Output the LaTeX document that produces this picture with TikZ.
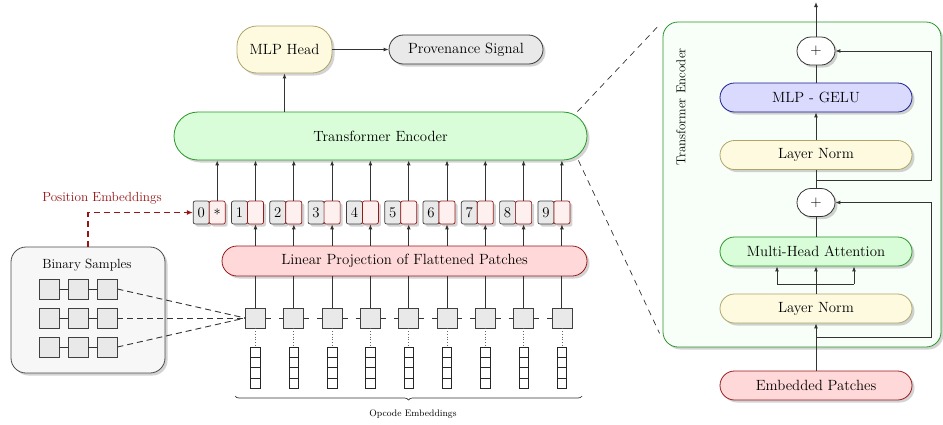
\documentclass[tikz,border=0pt]{standalone}
\usepackage{fontspec}
\usetikzlibrary{arrows.meta,shadows,decorations.pathreplacing,calc}

\definecolor{encfill}{RGB}{217,252,217}
\definecolor{encline}{RGB}{40,150,40}
\definecolor{normfill}{RGB}{253,250,224}
\definecolor{normline}{RGB}{175,165,105}
\definecolor{mlpfill}{RGB}{218,218,255}
\definecolor{mlpline}{RGB}{25,25,140}
\definecolor{projfill}{RGB}{255,217,217}
\definecolor{projline}{RGB}{150,25,25}
\definecolor{greyfill}{RGB}{233,233,233}
\definecolor{tokfill}{RGB}{255,240,240}
\definecolor{panelfill}{RGB}{248,255,248}
\definecolor{posred}{RGB}{150,20,20}

\tikzstyle{soft shadow}=[drop shadow={shadow xshift=2.5pt,shadow yshift=-2.5pt,opacity=0.35}]
\tikzstyle{block}=[
        draw,
        line width = 0.8pt,
        inner sep = 0pt,
        soft shadow,
        font = \fontsize{14.8}{17}\selectfont
    ]
\tikzstyle{pill}=[block, minimum width=192pt, minimum height=29pt, rounded corners=14.5pt]
\tikzstyle{norm pill}=[pill, fill=normfill, draw=normline]
\tikzstyle{plus}=[block, fill=white, minimum width=38pt, minimum height=28pt, rounded corners=14pt]
\tikzstyle{tok num}=[
        draw = black!75,
        fill = greyfill,
        line width = 0.7pt,
        rounded corners = 2pt,
        minimum width = 16pt,
        minimum height = 23pt,
        inner sep = 0pt,
        soft shadow,
        font = \fontsize{14.8}{17}\selectfont
    ]
\tikzstyle{tok emb}=[tok num, draw=projline, fill=tokfill]
\tikzstyle{patch}=[draw=black!75, fill=greyfill, line width=0.8pt, minimum size=20pt, inner sep=0pt]
\tikzstyle{cell}=[draw=black!85, line width=0.7pt, minimum width=9.5pt, minimum height=10.3pt, inner sep=0pt]

\begin{document}
\begin{tikzpicture}[x=1pt, y=-1pt, line width=0.9pt, draw=black!80,
        arr/.style = {-{Latex[length=5pt,width=4pt]}}]
        \useasboundingbox (0,0) rectangle (943,424);

        % main path
        \node[block, fill=normfill, draw=normline, minimum width=95pt, minimum height=47pt, rounded corners=20pt] (head) at (284.5,49.5) {MLP Head};
        \node[block, fill=greyfill, minimum width=154pt, minimum height=29pt, rounded corners=14.5pt] (prov) at (466,49.5) {Provenance Signal};
        \node[block, fill=encfill, draw=encline, minimum width=413pt, minimum height=48pt, rounded corners=24pt] (enc) at (380.5,136) {Transformer Encoder};
        \node[block, fill=projfill, draw=projline, minimum width=365pt, minimum height=30pt, rounded corners=15pt] (proj) at (404.5,261) {Linear Projection of Flattened Patches};

        \draw[arr] (head.south |- enc.north) -- (head.south);
        \draw[arr] (head.east) -- (prov.west);

        % tokens
        \foreach \j in {0,...,9}{
            \pgfmathsetmacro\xx{217.2+38.3*\j}
            \node[tok num] (tn\j) at (\xx-16,212.5) {\j};
            \node[tok emb] (te\j) at (\xx,212.5) {\ifnum\j=0 $\ast$\fi};
            \draw[arr] (te\j.north) -- (te\j.north |- enc.south);
        }
        \foreach \j in {1,...,9}
            \draw[arr] (te\j.south |- proj.north) -- (te\j.south);

        % patches and opcode stacks
        \foreach \i in {0,...,8}{
            \pgfmathsetmacro\xx{255.5+38.3*\i}
            \node[patch] (p\i) at (\xx,318) {};
            \foreach \k in {1,...,4}
                \node[cell] (c\i\k) at (\xx,{347+10.3*(\k-0.5)}) {};
            \draw[dotted, black!60, line width=0.7pt] (p\i.south) -- (c\i1.north);
            \draw (p\i.north) -- (p\i.north |- proj.south);
        }
        \foreach \i [count=\j from 1] in {0,...,7}
            \draw[dash pattern=on 5pt off 8pt] (p\i.east) -- (p\j.west);

        \draw[decorate, decoration={brace, mirror, amplitude=4pt}, line width=0.7pt] (235,396) -- (582,396);
        \node[font=\fontsize{9.4}{11}\selectfont] (opc) at (413,414) {Opcode Embeddings};

        % binary samples
        \node[draw=black!70, fill=black!3, line width=0.8pt, rounded corners=15pt, minimum width=154pt, minimum height=126pt, soft shadow] (bin) at (88,310) {};
        \node[font=\fontsize{13.3}{15}\selectfont] (binlbl) at (87,265) {Binary Samples};
        \foreach \r/\yy in {1/289,2/318,3/347}{
            \foreach \c/\xx in {1/49,2/78,3/107}
                \node[patch] (s\r\c) at (\xx,\yy) {};
            \draw (s\r1) -- (s\r2);
            \draw (s\r2) -- (s\r3);
            \draw[dash pattern=on 6pt off 4pt] (s\r3.east) -- (p0.west);
        }

        \node[posred, font=\fontsize{13.2}{15}\selectfont] (poslbl) at (102,198) {Position Embeddings};
        \draw[posred, dash pattern=on 6pt off 4pt, line width=1.1pt, -{Latex[length=6pt,width=5pt]}] (bin.north) |- (tn0.west);

        % encoder detail
        \node[draw=encline, fill=panelfill, line width=0.8pt, rounded corners=15pt, minimum width=278pt, minimum height=325pt, soft shadow] (panel) at (802,184.5) {};
        \node[rotate=90, font=\fontsize{12.9}{15}\selectfont] (panelttl) at (681,107) {Transformer Encoder};

        \node[plus] (plus2) at (816,51) {+};
        \node[pill, fill=mlpfill, draw=mlpline] (gelu) at (816,97.5) {MLP - GELU};
        \node[norm pill] (ln2) at (816,155) {Layer Norm};
        \node[plus] (plus1) at (816,202.5) {+};
        \node[pill, fill=encfill, draw=encline] (mha) at (816,251.5) {Multi-Head Attention};
        \node[norm pill] (ln1) at (816,308.5) {Layer Norm};
        \node[pill, fill=projfill, draw=projline] (embp) at (816,385.5) {Embedded Patches};

        \coordinate (r1) at (816,337);
        \coordinate (r1c) at (931,337);
        \coordinate (r2) at (816,180);
        \coordinate (r2c) at (931,180);
        \coordinate (split) at (816,284);
        \coordinate (qk) at (777,284);
        \coordinate (vv) at (854,284);
        \coordinate (out) at (816,2);

        \draw[arr] (embp.north) -- (ln1.south);
        \draw[arr] (r1) -- (r1c) |- (plus1.east);
        \draw (ln1.north) -- (split);
        \draw (qk) -- (vv);
        \draw[arr] (qk) -- (qk |- mha.south);
        \draw[arr] (split) -- (mha.south);
        \draw[arr] (vv) -- (vv |- mha.south);
        \draw (mha.north) -- (plus1.south);
        \draw (plus1.north) -- (ln2.south);
        \draw[arr] (r2) -- (r2c) |- (plus2.east);
        \draw[arr] (ln2.north) -- (gelu.south);
        \draw (gelu.north) -- (plus2.south);
        \draw[arr] (plus2.north) -- (out);

        % zoom lines
        \draw[dash pattern=on 6pt off 5pt, line width=0.7pt] ($(enc.north east)+(-10,0)$) -- ($(panel.north west)+(-3,3)$);
        \draw[dash pattern=on 6pt off 5pt, line width=0.7pt] ($(enc.south east)+(-9,0)$) -- ($(panel.south west)+(-3,-14)$);
    \end{tikzpicture}
\end{document}
